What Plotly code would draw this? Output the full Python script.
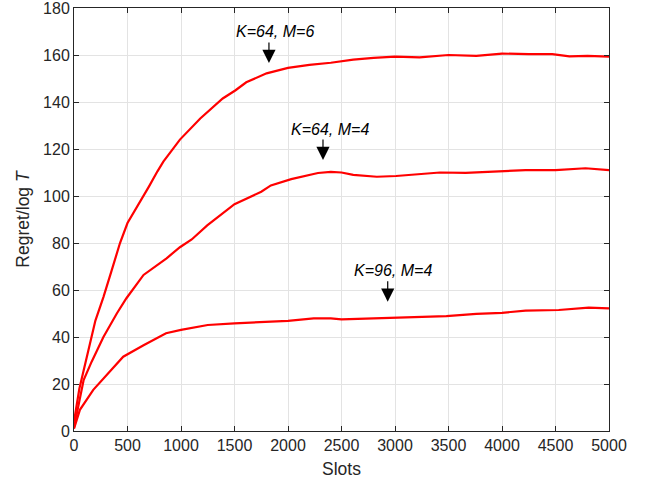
import plotly.graph_objects as go

# Regret / log T versus time slots for three (K, M) settings
x_k64_m6 = [0, 50, 200, 275, 350, 430, 500, 600, 700, 780, 835, 990, 1180, 1390, 1510,
            1610, 1800, 2000, 2200, 2400, 2500, 2610, 2800, 3000, 3230, 3500, 3760,
            4000, 4250, 4470, 4630, 4800, 5000]
y_k64_m6 = [4, 18, 47, 57, 68, 80, 88.5, 96, 104, 110.5, 114.6, 124, 133, 141.5, 145,
            148.4, 152.2, 154.5, 155.8, 156.7, 157.3, 158, 158.8, 159.3, 159, 160, 159.6,
            160.6, 160.4, 160.4, 159.4, 159.6, 159.3]

x_k64_m4 = [0, 90, 165, 275, 400, 490, 650, 775, 865, 990, 1100, 1245, 1500, 1750,
            1840, 2030, 2180, 2280, 2400, 2500, 2610, 2830, 3010, 3230, 3420, 3660,
            3980, 4220, 4500, 4780, 5000]
y_k64_m4 = [1.5, 21.7, 29.5, 40, 50, 56.5, 66.4, 70.6, 73.5, 78.2, 81.5, 87.5, 96.5, 101.8,
            104.5, 107.2, 108.8, 109.8, 110.3, 110, 109, 108.2, 108.5, 109.4, 110, 109.8,
            110.6, 111, 111, 111.8, 111]

x_k96_m4 = [0, 55, 180, 335, 460, 650, 860, 1000, 1250, 1500, 2000, 2240, 2400, 2500,
            2670, 3010, 3480, 3760, 4000, 4220, 4530, 4810, 5000]
y_k96_m4 = [1, 9, 17.5, 25.2, 31.6, 36.5, 41.6, 43, 45.1, 45.8, 46.9, 47.9, 47.9, 47.5,
            47.7, 48.2, 48.9, 49.8, 50.3, 51.2, 51.5, 52.5, 52.2]

# curve labels: text, text position, arrow head position
labels = ["K=64, M=6", "K=64, M=4", "K=96, M=4"]
label_x = [1879, 2393, 2981]
label_y = [169.8, 128.1, 68.5]
arrow_x = [1822, 2327, 2932]
arrow_y = [156.6, 115.3, 55.0]

x_ticks = list(range(0, 5001, 500))
y_ticks = list(range(0, 181, 20))

FONT = "Liberation Sans, Arial, sans-serif"
AXIS_COLOR = "#262626"

fig = go.Figure()
for xs, ys in [(x_k64_m6, y_k64_m6), (x_k64_m4, y_k64_m4), (x_k96_m4, y_k96_m4)]:
    fig.add_trace(go.Scatter(x=xs, y=ys, mode="lines",
                             line=dict(color="#ff0000", width=2.2),
                             showlegend=False, hoverinfo="skip"))

for txt, tx, ty, hx, hy in zip(labels, label_x, label_y, arrow_x, arrow_y):
    fig.add_annotation(x=tx, y=ty, text="<i>%s</i>" % txt, showarrow=False,
                       font=dict(family=FONT, size=16, color="#000000"))
    fig.add_annotation(x=hx, y=hy, text="", showarrow=True, ax=0, ay=-22,
                       arrowhead=2, arrowsize=2.2, arrowwidth=1.2, arrowcolor="#000000")

axis_common = dict(
    showline=True, linecolor=AXIS_COLOR, linewidth=1, mirror="ticks",
    ticks="inside", ticklen=5, tickcolor=AXIS_COLOR, tickwidth=1,
    showgrid=True, gridcolor="#e3e3e3", gridwidth=1, zeroline=False,
    tickfont=dict(family=FONT, size=16, color=AXIS_COLOR),
    ticklabeloverflow="allow", automargin=False,
)

fig.update_xaxes(range=[0, 5000], tickvals=x_ticks,
                 title=dict(text="Slots", font=dict(family=FONT, size=17.5, color=AXIS_COLOR),
                            standoff=9),
                 **axis_common)
fig.update_yaxes(range=[0, 180], tickvals=y_ticks,
                 title=dict(text="Regret/log <i>T</i>",
                            font=dict(family=FONT, size=17.5, color=AXIS_COLOR), standoff=8),
                 **axis_common)

fig.update_layout(
    width=650, height=487,
    margin=dict(l=74, r=41, t=8, b=56),
    plot_bgcolor="#ffffff", paper_bgcolor="#ffffff",
)

fig.write_html("out.html")
